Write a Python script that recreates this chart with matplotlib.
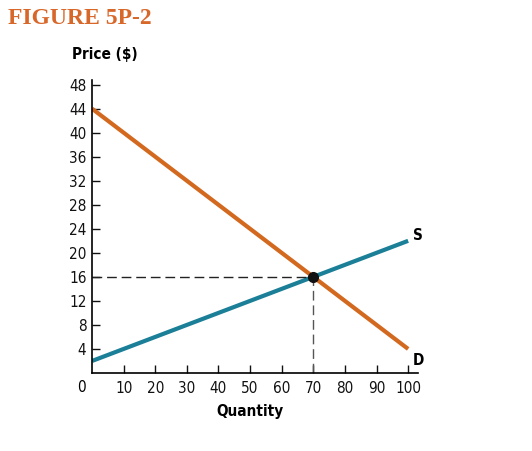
import matplotlib.pyplot as plt

plt.rcParams['font.family'] = ['DejaVu Sans']
plt.rcParams['font.stretch'] = 'condensed'

# data
quantity = [0, 100]
supply_price = [2, 22]
demand_price = [44, 4]
eq_q = 70
eq_p = 16
y_ticks = [4, 8, 12, 16, 20, 24, 28, 32, 36, 40, 44, 48]
x_ticks = [10, 20, 30, 40, 50, 60, 70, 80, 90, 100]

teal = '#1b7f98'
orange = '#d2691f'

fig = plt.figure(figsize=(5.32, 4.51), dpi=100)
ax = fig.add_axes([0.173, 0.173, 0.612, 0.650])

ax.plot(quantity, supply_price, color=teal, lw=3, solid_capstyle='butt')
ax.plot(quantity, demand_price, color=orange, lw=3, solid_capstyle='butt')

# equilibrium guides
ax.plot([0, eq_q], [eq_p, eq_p], color='#222222', lw=1, ls=(0, (7, 3.5)))
ax.plot([eq_q, eq_q], [0, eq_p], color='#555555', lw=1, ls=(0, (7, 3.5)))
ax.plot(eq_q, eq_p, 'o', color='#111111', ms=7, zorder=5)

ax.text(101.5, supply_price[1] - 0.3, 'S', fontsize=11, fontweight='bold', ha='left', va='bottom')
ax.text(101.5, demand_price[1] - 0.6, 'D', fontsize=11, fontweight='bold', ha='left', va='top')

ax.set_xlim(0, 103)
ax.set_ylim(0, 48.8)
ax.set_xticks(x_ticks)
ax.set_yticks(y_ticks)
ax.tick_params(direction='in', length=6, width=1, labelsize=11, colors='#111111', pad=4)
ax.tick_params(axis='x', pad=6)
for side in ['top', 'right']:
    ax.spines[side].set_visible(False)
for side in ['left', 'bottom']:
    ax.spines[side].set_linewidth(1.2)

ax.text(-2.0, -1.2, '0', fontsize=11, ha='right', va='top', transform=ax.transData)

fig.text(0.135, 0.862, 'Price ($)', fontsize=11, fontweight='bold', ha='left', va='bottom')
fig.text(0.47, 0.07, 'Quantity', fontsize=11, fontweight='bold', ha='center', va='bottom')
fig.text(0.015, 0.935, 'FIGURE 5P-2', fontsize=17, fontweight='bold', color='#d8672a',
         family=['Liberation Serif', 'DejaVu Serif'], ha='left', va='bottom')

fig.savefig('out.png', dpi=100)
